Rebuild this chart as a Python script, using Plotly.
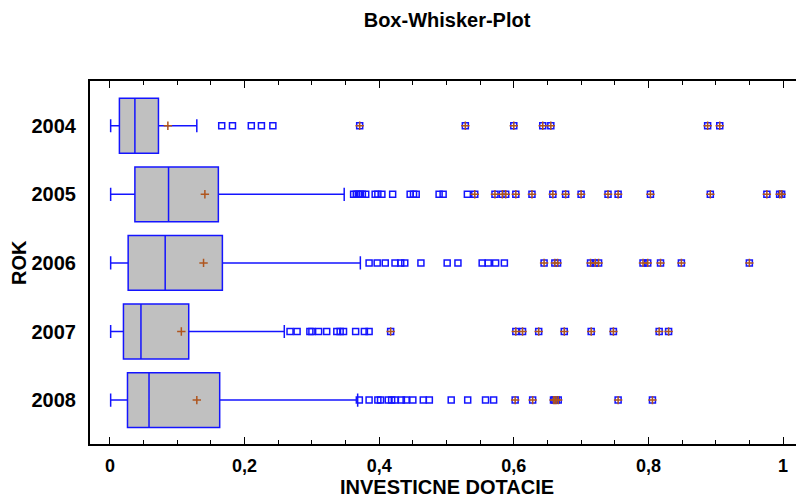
import plotly.graph_objects as go

years = ["2004", "2005", "2006", "2007", "2008"]
q1 = [0.014, 0.037, 0.027, 0.020, 0.026]
median = [0.037, 0.087, 0.082, 0.046, 0.058]
q3 = [0.072, 0.161, 0.167, 0.117, 0.163]
lower = [0.001, 0.001, 0.001, 0.001, 0.001]
upper = [0.129, 0.348, 0.372, 0.259, 0.368]
means = [0.086, 0.141, 0.139, 0.106, 0.129]

near_out = {
    "2004": [0.166, 0.182, 0.210, 0.225, 0.242],
    "2005": [0.362, 0.366, 0.369, 0.372, 0.375, 0.380, 0.394, 0.398, 0.404,
             0.420, 0.446, 0.451, 0.455, 0.489, 0.495, 0.531],
    "2006": [0.385, 0.397, 0.409, 0.4235, 0.432, 0.438, 0.462, 0.501, 0.517,
             0.553, 0.562, 0.573, 0.586],
    "2007": [0.2675, 0.278, 0.297, 0.300, 0.310, 0.322, 0.337, 0.342, 0.347,
             0.365, 0.378, 0.385],
    "2008": [0.3705, 0.385, 0.398, 0.402, 0.4135, 0.4185, 0.4235, 0.433, 0.440,
             0.450, 0.4655, 0.4745, 0.507, 0.5315, 0.558, 0.570],
}
far_out = {
    "2004": [0.371, 0.528, 0.600, 0.643, 0.655, 0.888, 0.906],
    "2005": [0.542, 0.572, 0.583, 0.588, 0.603, 0.627, 0.658, 0.677, 0.700,
             0.740, 0.755, 0.803, 0.892, 0.976, 0.995, 0.998],
    "2006": [0.645, 0.661, 0.665, 0.714, 0.721, 0.726, 0.792, 0.799, 0.818,
             0.849, 0.950],
    "2007": [0.417, 0.603, 0.613, 0.637, 0.675, 0.715, 0.748, 0.816, 0.830],
    "2008": [0.602, 0.628, 0.659, 0.661, 0.663, 0.666, 0.755, 0.806],
}

x_tickvals = [0, 0.2, 0.4, 0.6, 0.8, 1.0]
x_ticktext = ["0", "0,2", "0,4", "0,6", "0,8", "1"]

BLUE = "rgb(20,20,255)"
BROWN = "rgb(175,85,30)"
FONT = "Liberation Sans, Arial, sans-serif"

fig = go.Figure()

fig.add_trace(go.Box(
    orientation="h", y=years, q1=q1, median=median, q3=q3,
    lowerfence=lower, upperfence=upper,
    width=0.8, whiskerwidth=0.24,
    fillcolor="#C0C0C0", line=dict(color=BLUE, width=1.5),
    boxpoints=False, showlegend=False, hoverinfo="skip",
))

nx, ny, fx, fy = [], [], [], []
for yr in years:
    nx += near_out[yr]; ny += [yr] * len(near_out[yr])
    fx += far_out[yr]; fy += [yr] * len(far_out[yr])

fig.add_trace(go.Scatter(
    x=nx + fx, y=ny + fy, mode="markers",
    marker=dict(symbol="square-open", size=6, color=BLUE, line=dict(width=1.5, color=BLUE)),
    showlegend=False,
))
fig.add_trace(go.Scatter(
    x=fx, y=fy, mode="markers",
    marker=dict(symbol="cross-thin", size=6, line=dict(width=1.5, color=BROWN)),
    showlegend=False,
))
fig.add_trace(go.Scatter(
    x=means, y=years, mode="markers",
    marker=dict(symbol="cross-thin", size=6, line=dict(width=1.5, color=BROWN)),
    showlegend=False,
))

fig.update_layout(
    width=796, height=501,
    margin=dict(l=90, r=0, t=81, b=57),
    paper_bgcolor="white", plot_bgcolor="white",
    font=dict(family=FONT, color="black", size=18, weight="bold"),
    title=dict(text="Box-Whisker-Plot", x=0.5616, xanchor="center",
               y=1 - 20 / 501, yanchor="middle",
               font=dict(family=FONT, size=20, weight="bold")),
    boxmode="overlay",
    annotations=[
        dict(text="INVESTICNE DOTACIE", xref="paper", yref="paper",
             x=(447 - 90) / 706, y=(444 - 487) / 363, xanchor="center", yanchor="middle",
             showarrow=False, font=dict(family=FONT, size=20, weight="bold")),
        dict(text="ROK", xref="paper", yref="paper", textangle=-90,
             x=(19 - 90) / 706, y=(444 - 263) / 363, xanchor="center", yanchor="middle",
             showarrow=False, font=dict(family=FONT, size=20, weight="bold")),
    ],
)
fig.update_xaxes(
    range=[-0.0297, 1.0193], showgrid=False, zeroline=False,
    showline=True, linecolor="black", linewidth=2, mirror="ticks",
    ticks="inside", ticklen=7, tickwidth=1, tickcolor="black",
    tickvals=x_tickvals, ticktext=x_ticktext,
    tickfont=dict(family=FONT, size=18, weight="bold"),
    ticklabelstandoff=4,
    minor=dict(ticks="inside", ticklen=4, dtick=0.05, tick0=0, tickcolor="black", showgrid=False),
    automargin=False,
)
fig.update_yaxes(
    type="category", categoryarray=years, range=[4.64, -0.652],
    showgrid=False, zeroline=False, showline=True, linecolor="black", linewidth=2,
    ticks="", tickfont=dict(family=FONT, size=20, weight="bold"),
    ticklabelstandoff=8,
    automargin=False,
)

fig.write_html("out.html")
